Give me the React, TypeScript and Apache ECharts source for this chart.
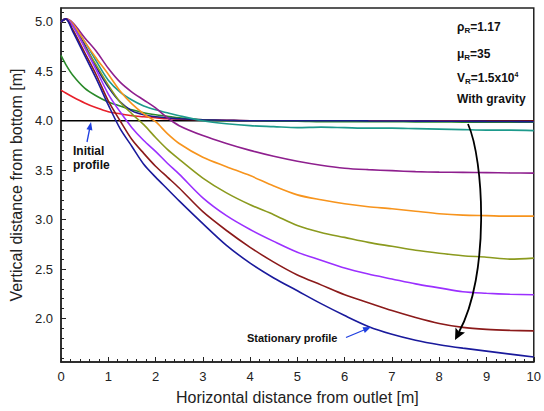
import React, { useEffect, useRef } from "react";
import * as echarts from "echarts";

const FONT = "'Liberation Sans', Arial, sans-serif";

// x positions (m) shared by all profiles
const xs = [0, 0.1, 0.25, 0.5, 0.75, 1, 1.25, 1.5, 1.75, 2, 2.25, 2.5, 3, 3.5, 4, 4.5, 5, 5.5, 6, 6.5, 7, 7.5, 8, 8.5, 9, 9.5, 10];

const redY = [4.31, 4.28, 4.24, 4.18, 4.13, 4.09, 4.07, 4.05, 4.04, 4.03, 4.02, 4.015, 4.01, 4.005, 4.0, 4.0, 4.0, 4.0, 4.0, 4.0, 4.0, 3.998, 3.997, 3.996, 3.995, 3.995, 3.995];
const greenY = [4.66, 4.57, 4.46, 4.33, 4.25, 4.19, 4.15, 4.11, 4.08, 4.06, 4.045, 4.03, 4.01, 4.0, 4.0, 3.995, 3.995, 3.99, 3.99, 3.99, 3.99, 3.988, 3.987, 3.986, 3.985, 3.985, 3.985];
const blueY = [5.0, 5.03, 4.97, 4.77, 4.54, 4.34, 4.19, 4.1, 4.06, 4.04, 4.03, 4.02, 4.01, 4.005, 4.0, 4.0, 4.0, 4.0, 4.0, 3.998, 3.997, 3.996, 3.995, 3.994, 3.993, 3.992, 3.99];
const tealY = [5.0, 5.03, 4.97, 4.8, 4.6, 4.41, 4.29, 4.21, 4.15, 4.11, 4.08, 4.05, 4.0, 3.97, 3.95, 3.94, 3.93, 3.935, 3.93, 3.925, 3.925, 3.92, 3.915, 3.91, 3.905, 3.905, 3.9];
const purpleY = [5.0, 5.03, 4.99, 4.84, 4.7, 4.53, 4.39, 4.29, 4.21, 4.13, 4.03, 3.95, 3.85, 3.77, 3.7, 3.64, 3.59, 3.55, 3.52, 3.505, 3.495, 3.485, 3.48, 3.478, 3.475, 3.472, 3.47];
const orangeY = [5.0, 5.03, 4.98, 4.8, 4.63, 4.47, 4.3, 4.17, 4.07, 3.99, 3.87, 3.77, 3.63, 3.535, 3.445, 3.34, 3.25, 3.2, 3.16, 3.13, 3.11, 3.085, 3.06, 3.045, 3.04, 3.035, 3.035];
const oliveY = [5.0, 5.03, 4.96, 4.75, 4.56, 4.36, 4.19, 4.07, 3.96, 3.83, 3.71, 3.61, 3.42, 3.27, 3.15, 3.05, 2.94, 2.87, 2.82, 2.77, 2.73, 2.69, 2.66, 2.635, 2.62, 2.6, 2.61];
const violetY = [5.0, 5.03, 4.96, 4.74, 4.51, 4.27, 4.09, 3.93, 3.8, 3.69, 3.57, 3.46, 3.22, 3.04, 2.9, 2.78, 2.67, 2.59, 2.51, 2.45, 2.4, 2.35, 2.31, 2.27, 2.255, 2.245, 2.24];
const maroonY = [5.0, 5.03, 4.92, 4.69, 4.46, 4.2, 4.0, 3.81, 3.67, 3.54, 3.43, 3.32, 3.08, 2.89, 2.72, 2.57, 2.44, 2.34, 2.24, 2.16, 2.08, 2.01, 1.95, 1.91, 1.89, 1.88, 1.875];
const navyY = [5.0, 5.03, 4.9, 4.66, 4.42, 4.16, 3.92, 3.74, 3.56, 3.43, 3.31, 3.19, 2.96, 2.74, 2.56, 2.41, 2.28, 2.15, 2.03, 1.92, 1.84, 1.78, 1.735, 1.7, 1.67, 1.64, 1.61];

const initialX = [0, 10];
const initialY = [4.0, 4.0];

const yMajor = [2.0, 2.5, 3.0, 3.5, 4.0, 4.5, 5.0];
const yMinor = [1.6, 1.7, 1.8, 1.9, 2.1, 2.2, 2.3, 2.4, 2.6, 2.7, 2.8, 2.9, 3.1, 3.2, 3.3, 3.4, 3.6, 3.7, 3.8, 3.9, 4.1, 4.2, 4.3, 4.4, 4.6, 4.7, 4.8, 4.9, 5.1];

const profiles = [
  { name: "p1", ys: redY, color: "#e8202a" },
  { name: "p2", ys: greenY, color: "#2a8a2a" },
  { name: "p3", ys: blueY, color: "#1c1c8c" },
  { name: "p4", ys: tealY, color: "#1d9a8c" },
  { name: "p5", ys: purpleY, color: "#8e1f8e" },
  { name: "p6", ys: orangeY, color: "#f7941d" },
  { name: "p7", ys: oliveY, color: "#8b9a1e" },
  { name: "p8", ys: violetY, color: "#9b30ff" },
  { name: "p9", ys: maroonY, color: "#8b1a1a" },
  { name: "p10", ys: navyY, color: "#1a1a9c" },
];

const BLUE = "#1f3fe0";

export default function App() {
  const ref = useRef<HTMLDivElement>(null);
  useEffect(() => {
    if (!ref.current) return;
    const chart = echarts.init(ref.current, undefined, { renderer: "svg" });
    const series: any[] = profiles.map((p) => ({
      name: p.name,
      type: "line",
      data: xs.map((x, i) => [x, p.ys[i]]),
      showSymbol: false,
      smooth: 0.3,
      lineStyle: { color: p.color, width: 1.6 },
      z: 3,
    }));
    series.push({
      name: "initial",
      type: "line",
      data: initialX.map((x, i) => [x, initialY[i]]),
      showSymbol: false,
      lineStyle: { color: "#000", width: 1.6 },
      z: 2,
    });

    const sub = { fontSize: 8, fontWeight: "bold", fontFamily: FONT, padding: [7, 0, 0, 0] };
    const sup = { fontSize: 7, fontWeight: "bold", fontFamily: FONT, padding: [0, 0, 6, 0] };
    const b = { fontSize: 12, fontWeight: "bold", fontFamily: FONT };
    const richText = (x: number, y: number, text: string) => ({
      type: "text",
      x,
      y,
      style: { text, fill: "#111", rich: { b, s: sub, p: sup } },
      z: 10,
    });

    chart.setOption({
      animation: false,
      grid: {
        left: 61,
        right: 8,
        top: 8,
        bottom: 49,
        show: true,
        borderColor: "#222",
        borderWidth: 1.5,
      },
      xAxis: {
        type: "value",
        min: 0,
        max: 10,
        interval: 1,
        name: "Horizontal distance from outlet [m]",
        nameLocation: "middle",
        nameGap: 27,
        nameTextStyle: { fontSize: 16, color: "#222", fontFamily: FONT },
        axisLine: { show: true, lineStyle: { color: "#222", width: 1.5 } },
        axisTick: { show: true, inside: true, length: 5, lineStyle: { color: "#222" } },
        minorTick: { show: true, splitNumber: 5, length: 3, lineStyle: { color: "#222" } },
        axisLabel: { fontSize: 13, color: "#222", margin: 8, fontFamily: FONT },
        splitLine: { show: false },
      },
      yAxis: [
        {
          type: "value",
          min: 1.56,
          max: 5.14,
          name: "Vertical distance from bottom [m]",
          nameLocation: "middle",
          nameGap: 32,
          nameTextStyle: { fontSize: 16, color: "#222", fontFamily: FONT },
          axisLine: { show: true, lineStyle: { color: "#222", width: 1.5 } },
          axisTick: { show: true, inside: true, length: 5, customValues: yMajor, lineStyle: { color: "#222" } },
          axisLabel: {
            fontSize: 13,
            color: "#222",
            margin: 8,
            fontFamily: FONT,
            customValues: yMajor,
            formatter: (v: number) => v.toFixed(1),
          },
          splitLine: { show: false },
        },
        {
          type: "value",
          min: 1.56,
          max: 5.14,
          position: "left",
          axisLine: { show: false },
          axisTick: { show: true, inside: true, length: 3, customValues: yMinor, lineStyle: { color: "#222" } },
          axisLabel: { show: false },
          splitLine: { show: false },
        },
      ],
      series,
      graphic: [
        richText(457, 19, "{b|ρ}{s|R}{b|=1.17}"),
        richText(457, 46, "{b|μ}{s|R}{b|=35}"),
        richText(457, 70, "{b|V}{s|R}{b|=1.5x10}{p|4}"),
        richText(457, 93, "{b|With gravity}"),
        {
          type: "text",
          x: 73,
          y: 145,
          style: { text: "Initial", fill: "#111", font: `bold 12px ${FONT}` },
          z: 10,
        },
        {
          type: "text",
          x: 73,
          y: 159,
          style: { text: "profile", fill: "#111", font: `bold 12px ${FONT}` },
          z: 10,
        },
        {
          type: "text",
          x: 247,
          y: 332,
          style: { text: "Stationary profile", fill: "#111", font: `bold 11px ${FONT}` },
          z: 10,
        },
        // blue arrow: initial profile
        {
          type: "line",
          shape: { x1: 87, y1: 142, x2: 89.6, y2: 129 },
          style: { stroke: BLUE, lineWidth: 1.3 },
          z: 10,
        },
        {
          type: "polygon",
          shape: { points: [[91, 122], [92.4, 130.4], [86.5, 129.3]] },
          style: { fill: BLUE },
          z: 10,
        },
        // blue arrow: stationary profile
        {
          type: "line",
          shape: { x1: 346, y1: 337.5, x2: 364, y2: 330 },
          style: { stroke: BLUE, lineWidth: 1.3 },
          z: 10,
        },
        {
          type: "polygon",
          shape: { points: [[371, 327], [364.8, 332.9], [362.5, 327.3]] },
          style: { fill: BLUE },
          z: 10,
        },
        // black curved arrow
        {
          type: "bezierCurve",
          shape: { x1: 468, y1: 124, cpx1: 484, cpy1: 160, cpx2: 490, cpy2: 275, x2: 459, y2: 332 },
          style: { stroke: "#000", lineWidth: 1.8, fill: null },
          z: 10,
        },
        {
          type: "polygon",
          shape: { points: [[455, 340], [465, 332.5], [458.8, 331.5], [455.5, 327.5]] },
          style: { fill: "#000" },
          z: 10,
        },
      ],
    });
    return () => chart.dispose();
  }, []);
  return <div ref={ref} style={{ width: 544, height: 411, position: "absolute", left: 0, top: 0 }} />;
}
